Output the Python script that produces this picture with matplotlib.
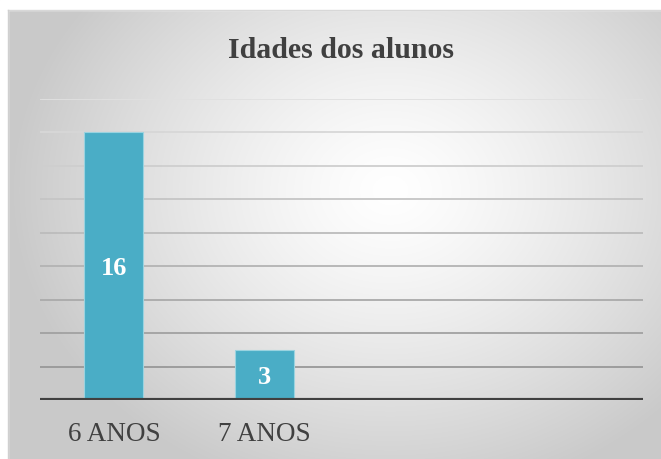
import numpy as np
import matplotlib
matplotlib.use("Agg")
import matplotlib.pyplot as plt
from matplotlib.patches import Rectangle

# ---- data ----
categories = ["6 ANOS", "7 ANOS", "", ""]
values = [16, 3, np.nan, np.nan]
title = "Idades dos alunos"
y_max = 18
y_step = 2

W, H = 661, 459
fig = plt.figure(figsize=(W / 100, H / 100), dpi=100)
fig.patch.set_facecolor("white")

# background panel with radial gradient
bg = fig.add_axes([0, 0, 1, 1])
bg.set_xlim(0, W)
bg.set_ylim(H, 0)
bg.axis("off")
yy, xx = np.mgrid[0:H, 0:W]
cx, cy = 390, 190
r = np.sqrt(((xx - cx) / 1.15) ** 2 + ((yy - cy) / 0.95) ** 2)
t = np.clip(r / 330, 0, 1) ** 1.3
val = 1.0 - t * (1.0 - 0.79)
img = np.dstack([val, val, val])
bg.imshow(img, extent=[0, W, H, 0], aspect="auto", zorder=0)
# white margins top/left
bg.add_patch(Rectangle((0, 0), W, 10, color="white", zorder=1))
bg.add_patch(Rectangle((0, 0), 8, H, color="white", zorder=1))
bg.plot([8, W], [10, 10], color="#d8d8d8", lw=1, zorder=2)
bg.plot([8, 8], [10, H], color="#d0d0d0", lw=1, zorder=2)

# plot area
left, right = 40, 643
base, top = 400, 98.5
ax = fig.add_axes([left / W, (H - base) / H, (right - left) / W, (base - top) / H])
ax.set_facecolor("none")
x = np.arange(len(categories))
ax.set_xlim(-0.5, len(categories) - 0.5)
ax.set_ylim(0, y_max)

ticks = np.arange(y_step, y_max + 0.01, y_step)
for tv in ticks:
    f = tv / y_max
    c = 0.56 + 0.32 * f
    ax.axhline(tv, color=(c, c, c), lw=1.3, zorder=1)

bars = ax.bar(x - 0.01, values, width=0.39, color="#4aadc6", edgecolor="#9ad3e0",
              linewidth=0.8, zorder=3)
for xi, v in zip(x, values):
    if not np.isnan(v):
        ax.text(xi - 0.01, v / 2, f"{int(v)}", ha="center", va="center_baseline",
                color="white", fontsize=19, fontweight="bold",
                family="Liberation Serif", zorder=4)

ax.axhline(0, color="#404040", lw=3.0, zorder=5)
for s in ax.spines.values():
    s.set_visible(False)
ax.set_yticks([])
ax.set_xticks(x - 0.01)
ax.set_xticklabels(categories, family="Liberation Serif", fontsize=19.5,
                   color="#404040")
ax.tick_params(axis="x", length=0, pad=16)

fig.text(341 / W, 1 - 50 / H, title, ha="center", va="center",
         family="Liberation Serif", fontweight="bold", fontsize=21.5,
         color="#404040")

fig.savefig("out.png", dpi=100)
